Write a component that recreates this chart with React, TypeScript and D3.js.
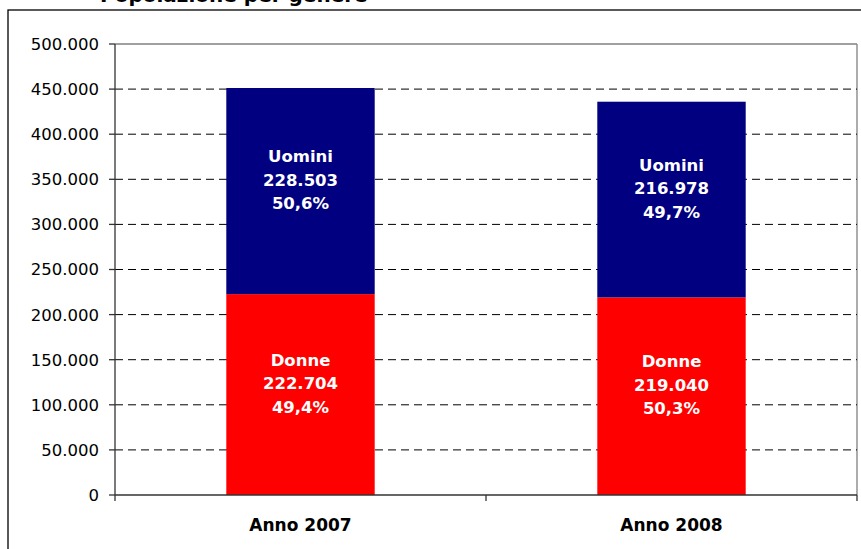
import React from "react";
import * as d3 from "d3";

// categories and series
const categories = ["Anno 2007", "Anno 2008"];
const donne = [222704, 219040];
const uomini = [228503, 216978];
const donnePct = ["49,4%", "50,3%"];
const uominiPct = ["50,6%", "49,7%"];
const yTicks = [0, 50000, 100000, 150000, 200000, 250000, 300000, 350000, 400000, 450000, 500000];

const W = 861;
const H = 549;
const margin = { top: 44, right: 4, bottom: 54, left: 115 };
const font = "DejaVu Sans, Verdana, sans-serif";

const locale = d3.formatLocale({ decimal: ",", thousands: ".", grouping: [3], currency: ["", "€"] });
const fmt = locale.format(",d");

const App = () => {
  const x = d3
    .scaleBand()
    .domain(categories)
    .range([margin.left, W - margin.right])
    .paddingInner(0.6)
    .paddingOuter(0.3);
  const y = d3
    .scaleLinear()
    .domain([0, 500000])
    .range([H - margin.bottom, margin.top]);

  const stack = d3
    .stack()
    .keys(["donne", "uomini"])(categories.map((c, i) => ({ cat: c, donne: donne[i], uomini: uomini[i] })) as any);
  const colors = { donne: "#FF0000", uomini: "#000080" };
  const names = { donne: "Donne", uomini: "Uomini" };
  const pcts = { donne: donnePct, uomini: uominiPct };

  const x0 = margin.left;
  const x1 = W - margin.right;
  const yb = y(0);
  const step = x.step();
  const xTickPos = [x0, x0 + step, x0 + 2 * step];

  return (
    <svg width={W} height={H} style={{ position: "absolute", left: 0, top: 0 }} fontFamily={font}>
      <rect x={0} y={0} width={W} height={H} fill="#fff" />
      {/* title, cut off at the top of the picture */}
      <text x={100} y={1.5} fontSize={20} fontWeight="bold" fill="#000">
        Popolazione per genere
      </text>
      <rect x={8} y={10} width={W + 20} height={H + 20} fill="none" stroke="#000" strokeWidth={1.3} />

      {/* plot area border */}
      <line x1={x0} x2={x1} y1={y(500000)} y2={y(500000)} stroke="#808080" strokeWidth={1.3} />
      <line x1={x1} x2={x1} y1={y(500000)} y2={yb} stroke="#808080" strokeWidth={1.3} />

      {/* grid */}
      {yTicks.filter(t => t > 0 && t < 500000).map(t => (
        <line key={t} x1={x0} x2={x1} y1={y(t)} y2={y(t)} stroke="#000" strokeDasharray="8,5" strokeWidth={1} />
      ))}

      {/* bars */}
      {stack.map(s => (
        <g key={s.key}>
          {s.map((d, i) => (
            <rect
              key={i}
              x={x(categories[i])}
              y={y(d[1])}
              width={x.bandwidth()}
              height={y(d[0]) - y(d[1])}
              fill={colors[s.key]}
            />
          ))}
        </g>
      ))}

      {/* bar labels */}
      {stack.map(s =>
        s.map((d, i) => {
          const cx = (x(categories[i]) as number) + x.bandwidth() / 2;
          const mid = (y(d[0]) + y(d[1])) / 2 - 5.5;
          const lines = [names[s.key], fmt(d[1] - d[0]), pcts[s.key][i]];
          return (
            <text key={s.key + i} textAnchor="middle" fill="#fff" fontWeight="bold" fontSize={16.5}>
              {lines.map((l, j) => (
                <tspan key={j} x={cx} y={mid + (j - 1) * 23.5}>
                  {l}
                </tspan>
              ))}
            </text>
          );
        })
      )}

      {/* y axis */}
      <line x1={x0} x2={x0} y1={y(500000)} y2={yb} stroke="#333" strokeWidth={1.3} />
      {yTicks.map(t => (
        <g key={t}>
          <line x1={x0 - 6} x2={x0} y1={y(t)} y2={y(t)} stroke="#333" strokeWidth={1.3} />
          <text x={99} y={y(t)} dy="0.36em" textAnchor="end" fontSize={16.5} fill="#000">
            {fmt(t)}
          </text>
        </g>
      ))}

      {/* x axis */}
      <line x1={x0} x2={x1} y1={yb} y2={yb} stroke="#333" strokeWidth={1.3} />
      {xTickPos.map((p, i) => (
        <line key={i} x1={p} x2={p} y1={yb} y2={yb + 6} stroke="#333" strokeWidth={1.3} />
      ))}
      {categories.map(c => (
        <text
          key={c}
          x={(x(c) as number) + x.bandwidth() / 2}
          y={531}
          textAnchor="middle"
          fontWeight="bold"
          fontSize={17}
          fill="#000"
        >
          {c}
        </text>
      ))}
    </svg>
  );
};

export default App;
